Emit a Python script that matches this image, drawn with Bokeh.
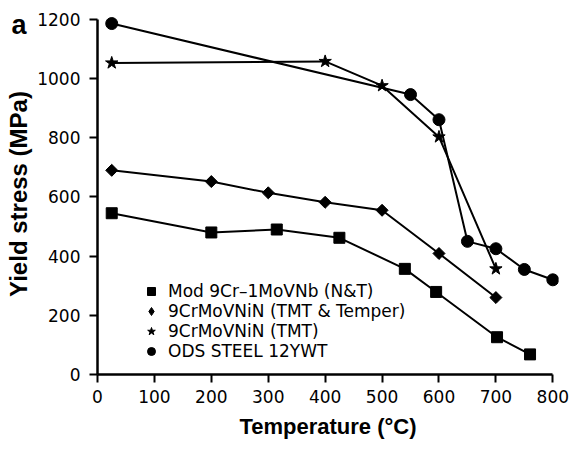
import math
from bokeh.plotting import figure
from bokeh.models import Range1d, Legend, LegendItem, Label, FixedTicker
from bokeh.embed import file_html
from bokeh.resources import INLINE

# data
temp_mod = [25, 200, 315, 425, 540, 595, 702, 760]
ys_mod = [545, 480, 490, 462, 357, 279, 126, 68]

temp_tmtt = [25, 200, 300, 400, 500, 600, 700]
ys_tmtt = [690, 652, 614, 582, 555, 409, 260]

temp_tmt = [25, 400, 500, 600, 700]
ys_tmt = [1053, 1058, 976, 803, 357]

temp_ods = [25, 550, 600, 650, 700, 750, 800]
ys_ods = [1186, 946, 861, 450, 425, 355, 320]

labels = ["Mod 9Cr\u20131MoVNb (N&T)", "9CrMoVNiN (TMT & Temper)",
          "9CrMoVNiN (TMT)", "ODS STEEL 12YWT"]
panel_tag = "a"
x_ticks = [0, 100, 200, 300, 400, 500, 600, 700, 800]
y_ticks = [0, 200, 400, 600, 800, 1000, 1200]

p = figure(width=573, height=442, output_backend="svg", toolbar_location=None,
           x_range=Range1d(0, 810), y_range=Range1d(0, 1220),
           min_border_left=97, min_border_right=0, min_border_top=13,
           min_border_bottom=68)
p.outline_line_color = None
p.grid.visible = False
p.background_fill_color = "white"

for ax, tk in ((p.xaxis[0], x_ticks), (p.yaxis[0], y_ticks)):
    ax.ticker = FixedTicker(ticks=tk)
    ax.axis_line_width = 2.5
    ax.major_tick_line_width = 2
    ax.major_tick_in = 0
    ax.major_tick_out = 8
    ax.minor_tick_line_color = None
    ax.major_label_text_font = "DejaVu Sans"
    ax.major_label_text_font_size = "17px"
    ax.major_label_text_color = "black"
    ax.axis_label_text_font = "Liberation Sans"
    ax.axis_label_text_font_style = "bold"
    ax.axis_label_text_color = "black"

p.xaxis.bounds = (0, 800)
p.yaxis.bounds = (0, 1200)
p.xaxis.axis_label = "Temperature (\u00b0C)"
p.yaxis.axis_label = "Yield stress (MPa)"
p.xaxis.axis_label_text_font_size = "22px"
p.yaxis.axis_label_text_font_size = "24px"
p.xaxis.major_label_standoff = 7
p.xaxis.axis_label_standoff = 8
p.yaxis.major_label_standoff = 9
p.yaxis.axis_label_standoff = 2

# (x, y, marker, size, angle)
series = [
    (temp_mod, ys_mod, "square", 11, 0.0),
    (temp_tmtt, ys_tmtt, "square", 8.5, math.pi / 4),
    (temp_tmt, ys_tmt, "star", 13, 0.0),
    (temp_ods, ys_ods, "circle", 12, 0.0),
]

items = []
for i, ((xs, ys, mk, sz, ang), lab) in enumerate(zip(series, labels)):
    p.line(xs, ys, line_color="black", line_width=2)
    leg_r = None
    if i == 1:
        # plain diamond hidden under the rotated squares; used for the legend
        leg_r = p.scatter(xs, ys, marker="diamond", size=10,
                          fill_color="black", line_color="black")
    r = p.scatter(xs, ys, marker=mk, size=sz, angle=ang,
                  fill_color="black", line_color="black")
    items.append(LegendItem(label=lab, renderers=[leg_r or r]))

legend = Legend(items=items, location=(44, 13), orientation="vertical",
                glyph_width=20, glyph_height=20, spacing=0, padding=0,
                margin=0, label_standoff=7, label_height=20,
                label_text_font="DejaVu Sans", label_text_font_size="17px",
                label_text_color="black",
                background_fill_alpha=0, border_line_alpha=0)
p.add_layout(legend, "center")

# panel tag "a": drawn from a side panel (side panels are not clipped)
p.add_layout(Label(x=-547, y=350, x_units="screen", y_units="screen",
                   text=panel_tag, text_font="Liberation Sans",
                   text_font_style="bold", text_font_size="27px",
                   text_color="black", text_baseline="alphabetic"), "right")

open("out.html", "w").write(file_html(p, INLINE))
